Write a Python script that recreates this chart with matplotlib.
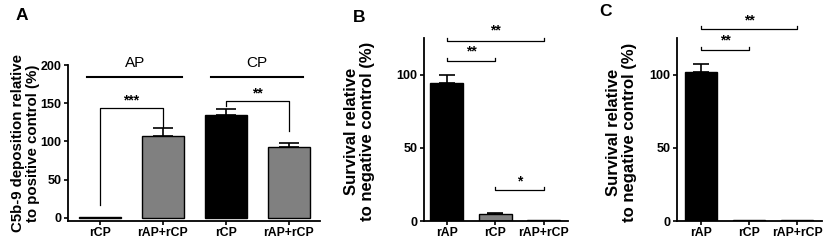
import matplotlib
matplotlib.use("Agg")
import matplotlib.pyplot as plt
import numpy as np

plt.rcParams['font.family'] = ['Liberation Sans', 'DejaVu Sans']

# Panel A data
a_labels = ["rCP", "rAP+rCP", "rCP", "rAP+rCP"]
a_values = [1.5, 107, 135, 93]
a_errors = [0, 11, 7, 5]
a_colors = ["black", "#808080", "black", "#808080"]
a_groups = ["AP", "CP"]

# Panel B data
b_labels = ["rAP", "rCP", "rAP+rCP"]
b_values = [94, 5, 0.5]
b_errors = [6, 0.5, 0]
b_colors = ["black", "#808080", "#808080"]

# Panel C data
c_labels = ["rAP", "rCP", "rAP+rCP"]
c_values = [102, 0.4, 0.4]
c_errors = [5, 0, 0]
c_colors = ["black", "black", "black"]

W, H = 829, 246
fig = plt.figure(figsize=(W/100, H/100), dpi=100)

def ax_px(l, r, b, t):
    return fig.add_axes([l/W, 1-b/H, (r-l)/W, (b-t)/H])

def style(ax):
    for s in ["top", "right"]:
        ax.spines[s].set_visible(False)
    for s in ["left", "bottom"]:
        ax.spines[s].set_linewidth(1.3)
    ax.tick_params(axis="both", width=1.2, length=3, pad=1.5)
    ax.tick_params(axis="y", labelsize=9)
    ax.tick_params(axis="x", labelsize=8.8)
    for lab in ax.get_xticklabels() + ax.get_yticklabels():
        lab.set_fontweight("bold")

def bars(ax, values, errors, colors, width, cap):
    x = np.arange(len(values))
    ax.bar(x, values, width=width, color=colors, edgecolor="black", linewidth=1.0, zorder=2)
    for xi, v, e in zip(x, values, errors):
        if e > 0:
            ax.errorbar(xi, v, yerr=[[0], [e]], color="black", capsize=cap, elinewidth=1.2, capthick=1.2, zorder=3)
    return x

def bracket(ax, x1, x2, y, h1, h2, text, ty):
    ax.plot([x1, x1, x2, x2], [y - h1, y, y, y - h2], color="black", lw=0.9, clip_on=False)
    ax.text((x1 + x2) / 2, ty, text, ha="center", va="center", fontsize=10, fontweight="bold", clip_on=False)

def ylab(text, cx, cy, size, ls):
    fig.text(cx/W, 1-cy/H, text, rotation=90, ha="center", va="center",
             fontsize=size, fontweight="bold", linespacing=ls, multialignment="center")

# Panel A
axA = ax_px(68, 320, 221, 65)
x = bars(axA, a_values, a_errors, a_colors, 0.67, 7)
axA.set_xlim(-0.51, 3.5)
axA.set_ylim(-4, 200)
axA.set_yticks([0, 50, 100, 150, 200])
axA.set_xticks(x)
axA.set_xticklabels(a_labels)
style(axA)
ylab("C5b-9 deposition relative\nto positive control (%)", 25.5, 143, 10.8, 1.05)
# group lines
axA.plot([-0.2, 1.3], [184, 184], color="black", lw=1.5, clip_on=False)
axA.plot([1.77, 3.23], [184, 184], color="black", lw=1.5, clip_on=False)
axA.text(0.55, 203, a_groups[0], ha="center", va="center", fontsize=11, clip_on=False)
axA.text(2.5, 203, a_groups[1], ha="center", va="center", fontsize=11, clip_on=False)
bracket(axA, 0, 1, 144, 127, 25, "***", 153)
bracket(axA, 2, 3, 153, 6, 39, "**", 163)
fig.text(22/W, 1-16/H, "A", fontsize=12.5, fontweight="bold", ha="center", va="center")

# Panel B
axB = ax_px(424, 568, 221, 38)
x = bars(axB, b_values, b_errors, b_colors, 0.68, 6)
axB.set_xlim(-0.47, 2.5)
axB.set_ylim(0, 125)
axB.set_yticks([0, 50, 100])
axB.set_xticks(x)
axB.set_xticklabels(b_labels)
style(axB)
ylab("Survival relative\nto negative control (%)", 359.5, 131, 12, 1.1)
bracket(axB, 0, 1, 109.5, -2, -2, "**", 116)
bracket(axB, 0, 2, 123, -2, -2, "**", 130)
bracket(axB, 1, 2, 21, -2, -2, "*", 27)
fig.text(359/W, 1-17/H, "B", fontsize=12.5, fontweight="bold", ha="center", va="center")

# Panel C
axC = ax_px(677, 822, 221, 38)
x = bars(axC, c_values, c_errors, c_colors, 0.68, 6)
axC.set_xlim(-0.5, 2.52)
axC.set_ylim(0, 125)
axC.set_yticks([0, 50, 100])
axC.set_xticks(x)
axC.set_xticklabels(c_labels)
style(axC)
ylab("Survival relative\nto negative control (%)", 621.5, 132, 12, 1.1)
bracket(axC, 0, 1, 117, -2, -2, "**", 123)
bracket(axC, 0, 2, 131, -2, -2, "**", 137)
fig.text(606/W, 1-12/H, "C", fontsize=12.5, fontweight="bold", ha="center", va="center")

fig.savefig("out.png", dpi=100)
